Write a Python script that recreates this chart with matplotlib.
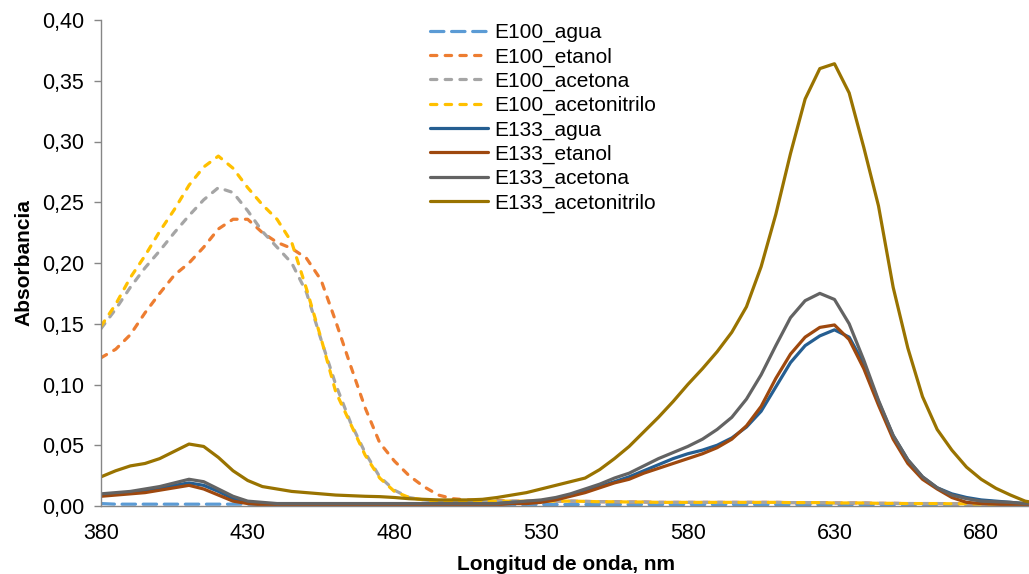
import matplotlib
matplotlib.use("Agg")
import matplotlib.pyplot as plt
from matplotlib.ticker import FuncFormatter

plt.rcParams['font.family'] = ['Liberation Sans', 'DejaVu Sans']

# ---------------- data ----------------
wavelength = [380, 385, 390, 395, 400, 405, 410, 415, 420, 425, 430, 435, 440, 445, 450,
              455, 460, 465, 470, 475, 480, 485, 490, 495, 500, 505, 510, 515, 520, 525,
              530, 535, 540, 545, 550, 555, 560, 565, 570, 575, 580, 585, 590, 595, 600,
              605, 610, 615, 620, 625, 630, 635, 640, 645, 650, 655, 660, 665, 670, 675,
              680, 685, 690, 695, 700]

e100_agua = [0.002, 0.0015, 0.0015, 0.0015, 0.0015, 0.0015, 0.0015, 0.0015, 0.0015, 0.0015,
             0.0015, 0.0012, 0.0012, 0.0012, 0.0012, 0.0012, 0.0012, 0.0012, 0.0012, 0.0012,
             0.0012, 0.0012, 0.0012, 0.0012, 0.0012, 0.0012, 0.0012, 0.0012, 0.0012, 0.0012,
             0.0012, 0.0012, 0.0012, 0.0012, 0.0012, 0.0012, 0.0012, 0.0012, 0.0012, 0.0012,
             0.0012, 0.0012, 0.0012, 0.0012, 0.0012, 0.0012, 0.0012, 0.0012, 0.0012, 0.0012,
             0.0012, 0.0012, 0.0012, 0.0012, 0.0012, 0.0012, 0.0012, 0.0012, 0.0012, 0.0012,
             0.0012, 0.0012, 0.0012, 0.0012, 0.0012]

e100_etanol = [0.122, 0.129, 0.141, 0.159, 0.175, 0.190, 0.200, 0.213, 0.228, 0.236,
               0.236, 0.225, 0.217, 0.212, 0.204, 0.186, 0.152, 0.116, 0.081, 0.052,
               0.037, 0.025, 0.016, 0.009, 0.006, 0.005, 0.0045, 0.0045, 0.004, 0.004,
               0.004, 0.004, 0.004, 0.0038, 0.0035, 0.0035, 0.0033, 0.0033, 0.003, 0.003,
               0.003, 0.003, 0.003, 0.003, 0.003, 0.003, 0.003, 0.0028, 0.0028, 0.0028,
               0.0025, 0.0025, 0.0025, 0.0022, 0.0022, 0.002, 0.002, 0.002, 0.0018, 0.0018,
               0.0015, 0.0015, 0.0015, 0.0015, 0.0015]

e100_acetona = [0.146, 0.162, 0.180, 0.196, 0.210, 0.225, 0.239, 0.252, 0.262, 0.258,
                0.243, 0.226, 0.213, 0.200, 0.176, 0.137, 0.100, 0.069, 0.044, 0.024,
                0.013, 0.007, 0.005, 0.004, 0.004, 0.004, 0.004, 0.004, 0.004, 0.004,
                0.004, 0.004, 0.004, 0.0038, 0.0035, 0.0035, 0.0033, 0.0033, 0.003, 0.003,
                0.003, 0.003, 0.003, 0.003, 0.003, 0.003, 0.003, 0.0028, 0.0028, 0.0028,
                0.0025, 0.0025, 0.0025, 0.0022, 0.0022, 0.002, 0.002, 0.002, 0.0018, 0.0018,
                0.0015, 0.0015, 0.0015, 0.0015, 0.0015]

e100_acetonitrilo = [0.148, 0.166, 0.188, 0.206, 0.226, 0.244, 0.264, 0.279, 0.288, 0.278,
                     0.262, 0.248, 0.236, 0.217, 0.179, 0.138, 0.094, 0.068, 0.042, 0.023,
                     0.012, 0.007, 0.005, 0.004, 0.004, 0.004, 0.004, 0.004, 0.004, 0.004,
                     0.004, 0.004, 0.004, 0.0038, 0.0035, 0.0035, 0.0033, 0.0033, 0.003, 0.003,
                     0.003, 0.003, 0.003, 0.003, 0.003, 0.003, 0.003, 0.0028, 0.0028, 0.0028,
                     0.0025, 0.0025, 0.0025, 0.0022, 0.0022, 0.002, 0.002, 0.002, 0.0018, 0.0018,
                     0.0015, 0.0015, 0.0015, 0.0015, 0.0015]

e133_agua = [0.009, 0.010, 0.011, 0.012, 0.014, 0.017, 0.019, 0.017, 0.012, 0.006,
             0.003, 0.002, 0.002, 0.002, 0.002, 0.002, 0.002, 0.002, 0.002, 0.002,
             0.002, 0.002, 0.002, 0.002, 0.002, 0.002, 0.002, 0.002, 0.003, 0.003,
             0.004, 0.006, 0.009, 0.012, 0.016, 0.020, 0.024, 0.029, 0.034, 0.039,
             0.043, 0.046, 0.050, 0.056, 0.065, 0.078, 0.098, 0.118, 0.132, 0.140,
             0.145, 0.139, 0.117, 0.086, 0.058, 0.038, 0.024, 0.015, 0.010, 0.007,
             0.005, 0.004, 0.003, 0.002, 0.002]

e133_etanol = [0.008, 0.009, 0.010, 0.011, 0.013, 0.015, 0.017, 0.014, 0.009, 0.004,
               0.002, 0.001, 0.001, 0.001, 0.001, 0.001, 0.001, 0.001, 0.001, 0.001,
               0.001, 0.001, 0.001, 0.001, 0.001, 0.001, 0.001, 0.001, 0.002, 0.002,
               0.003, 0.005, 0.008, 0.011, 0.015, 0.019, 0.022, 0.027, 0.031, 0.035,
               0.039, 0.043, 0.048, 0.055, 0.066, 0.082, 0.105, 0.125, 0.139, 0.147,
               0.149, 0.137, 0.113, 0.083, 0.055, 0.035, 0.022, 0.014, 0.007, 0.003,
               0.002, 0.0015, 0.001, 0.001, 0.001]

e133_acetona = [0.010, 0.011, 0.012, 0.014, 0.016, 0.019, 0.022, 0.020, 0.014, 0.008,
                0.004, 0.003, 0.002, 0.002, 0.002, 0.002, 0.002, 0.002, 0.002, 0.002,
                0.002, 0.002, 0.002, 0.002, 0.002, 0.002, 0.002, 0.002, 0.003, 0.004,
                0.005, 0.007, 0.010, 0.014, 0.018, 0.023, 0.027, 0.033, 0.039, 0.044,
                0.049, 0.055, 0.063, 0.073, 0.088, 0.108, 0.132, 0.155, 0.169, 0.175,
                0.170, 0.150, 0.120, 0.087, 0.058, 0.038, 0.024, 0.015, 0.009, 0.006,
                0.004, 0.0035, 0.003, 0.002, 0.002]

e133_acetonitrilo = [0.024, 0.029, 0.033, 0.035, 0.039, 0.045, 0.051, 0.049, 0.040, 0.029,
                     0.021, 0.016, 0.014, 0.012, 0.011, 0.010, 0.009, 0.0085, 0.008, 0.0077,
                     0.007, 0.006, 0.0055, 0.005, 0.005, 0.005, 0.0055, 0.007, 0.009, 0.011,
                     0.014, 0.017, 0.020, 0.023, 0.030, 0.039, 0.049, 0.061, 0.073, 0.086,
                     0.100, 0.113, 0.127, 0.143, 0.164, 0.197, 0.240, 0.290, 0.335, 0.360,
                     0.364, 0.340, 0.295, 0.247, 0.180, 0.130, 0.090, 0.063, 0.046, 0.032,
                     0.022, 0.0146, 0.009, 0.004, 0.002]

series_labels = ["E100_agua", "E100_etanol", "E100_acetona", "E100_acetonitrilo",
                 "E133_agua", "E133_etanol", "E133_acetona", "E133_acetonitrilo"]
x_ticks = [380, 430, 480, 530, 580, 630, 680]
y_ticks = [0.00, 0.05, 0.10, 0.15, 0.20, 0.25, 0.30, 0.35, 0.40]

# ---------------- styles ----------------
colors = ["#5B9BD5", "#ED7D31", "#A5A5A5", "#FFC000",
          "#255E91", "#9E480E", "#636363", "#997300"]
dash_short = (0, (2.0, 2.6))
dash_long = (0, (4.2, 2.4))
styles = [dash_long, dash_short, dash_short, dash_short, "-", "-", "-", "-"]

all_series = [e100_agua, e100_etanol, e100_acetona, e100_acetonitrilo,
              e133_agua, e133_etanol, e133_acetona, e133_acetonitrilo]

fig = plt.figure(figsize=(10.29, 5.74), dpi=100)
ax = fig.add_axes([101 / 1029, 1 - 506 / 574, 1 - 101 / 1029 + 0.002, (506 - 20) / 574])

for vals, lab, col, ls in zip(all_series, series_labels, colors, styles):
    ax.plot(wavelength, vals, color=col, linestyle=ls, linewidth=2.3,
            dash_capstyle="round", solid_capstyle="round", solid_joinstyle="round",
            label=lab)

ax.set_xlim(380, 697)
ax.set_ylim(0, 0.40)
ax.set_xticks(x_ticks)
ax.set_yticks(y_ticks)
ax.yaxis.set_major_formatter(FuncFormatter(lambda v, _: f"{v:.2f}".replace(".", ",")))

for s in ["top", "right"]:
    ax.spines[s].set_visible(False)
for s in ["left", "bottom"]:
    ax.spines[s].set_color("#868686")
    ax.spines[s].set_linewidth(1.0)

ax.tick_params(axis="y", direction="out", length=5, width=1.0, color="#868686",
               labelsize=15.5, pad=7, labelcolor="black")
ax.tick_params(axis="x", length=0, labelsize=15.5, pad=12, labelcolor="black")

ax.set_xlabel("Longitud de onda, nm", fontsize=15, fontweight="bold", labelpad=8)
ax.set_ylabel("Absorbancia", fontsize=15, fontweight="bold", labelpad=6)

leg = ax.legend(loc="upper left", bbox_to_anchor=(430 / 1029, 1 - 23 / 574),
                bbox_transform=fig.transFigure, frameon=False, fontsize=15,
                handlelength=2.8, handletextpad=0.3, labelspacing=0.245,
                borderpad=0, borderaxespad=0)

fig.savefig("out.png", dpi=100)
